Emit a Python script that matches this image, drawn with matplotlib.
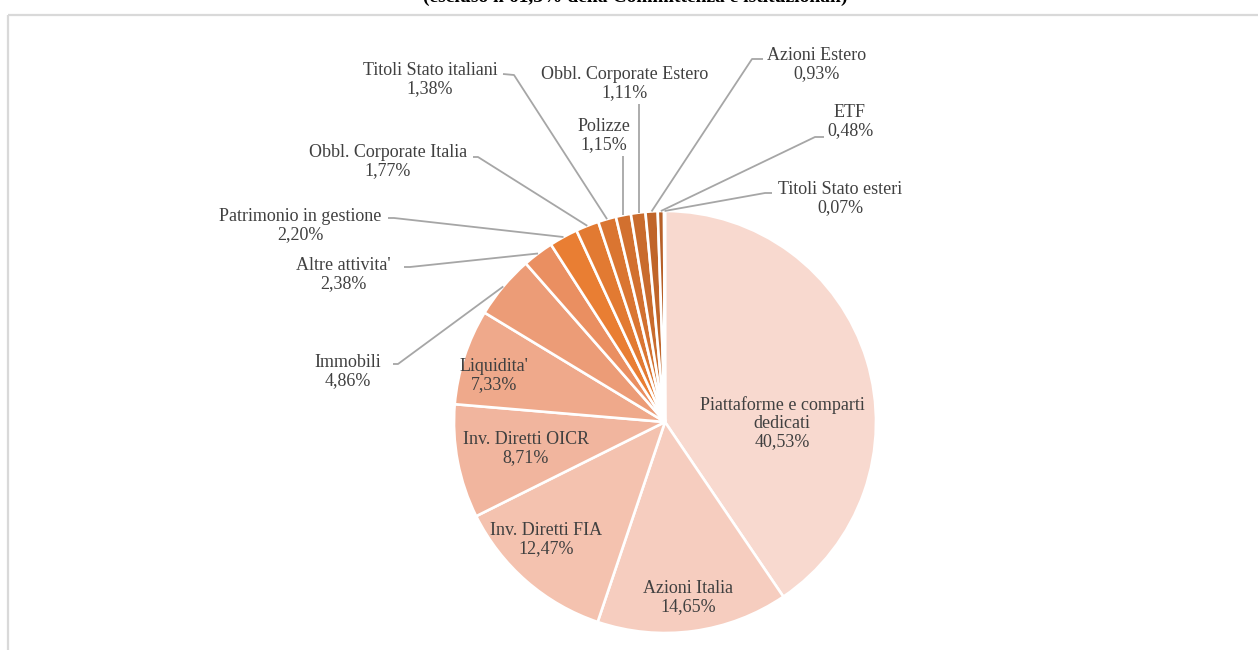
import numpy as np
import matplotlib.pyplot as plt
from matplotlib.patches import Rectangle

# composizione del patrimonio, in senso orario a partire dall'alto
categorie = ["Piattaforme e comparti\ndedicati", "Azioni Italia", "Inv. Diretti FIA",
             "Inv. Diretti OICR", "Liquidita'", "Immobili", "Altre attivita'",
             "Patrimonio in gestione", "Obbl. Corporate Italia", "Titoli Stato italiani",
             "Polizze", "Obbl. Corporate Estero", "Azioni Estero", "ETF", "Titoli Stato esteri"]
quote = [40.53, 14.65, 12.47, 8.71, 7.33, 4.86, 2.38, 2.20, 1.77, 1.38, 1.15, 1.11, 0.93, 0.48, 0.07]
colori = ["#F8D9CF", "#F6CDBF", "#F4C2AF", "#F1B59E", "#EFA98B", "#EC9C77", "#EA8F61",
          "#E97E33", "#E27A32", "#DA7531", "#D2702F", "#C96B2D", "#C0652A", "#B76028", "#AE5A26"]

# etichette dentro lo spicchio: centro del testo (px)
interne = {0: (782, 423), 1: (688, 598), 2: (546, 540), 3: (526, 449), 4: (494, 376)}
# etichette esterne: centro del testo, fine della linea guida, tratto orizzontale finale
esterne = {
    5: ((348, 372), (398, 364), (393, 364)),
    6: ((343, 275), (410, 267), (404, 267)),
    7: ((300, 226), (394, 218), (388, 218)),
    8: ((388, 162), (478, 157), (473, 157)),
    9: ((430, 80), (514, 75), (503, 74)),
    10: ((604, 136), (623, 156), None),
    11: ((625, 84), (639, 104), None),
    12: ((817, 65), (752, 59), (763, 59)),
    13: ((850, 122), (815, 137), (824, 137)),
    14: ((840, 199), (765, 193), (772, 193)),
}

W, H = 1258, 650
plt.rcParams['font.family'] = ['Liberation Serif', 'DejaVu Serif']
fig = plt.figure(figsize=(W / 100, H / 100), dpi=100)
ax = fig.add_axes([0, 0, 1, 1])

# cornice grigia del grafico
ax.add_patch(Rectangle((8, 15), W + 20, H + 20, fill=False, ec="#D9D9D9", lw=1.6))
ax.text(635, 2, "(escluso il 61,3% della Committenza e istituzionali)", ha='center',
        va='baseline', fontsize=14, fontweight='bold', color="#000000")

cx, cy, R = 665, 422, 211
# y invertito: counterclock=True disegna in senso orario sullo schermo
wedges, _ = ax.pie(quote, colors=colori, startangle=-90, counterclock=True,
                   center=(cx, cy), radius=R, frame=True,
                   wedgeprops=dict(edgecolor='white', linewidth=1.9))
ax.set_xlim(0, W)
ax.set_ylim(H, 0)
ax.set_aspect('equal')
ax.axis('off')

testo = "#404040"
fs = 13
for i, w in enumerate(wedges):
    lab = categorie[i] + "\n" + f"{quote[i]:.2f}".replace(".", ",") + "%"
    if i in interne:
        x, y = interne[i]
        ax.text(x, y, lab, ha='center', va='center', fontsize=fs, color=testo,
                linespacing=1.08)
    else:
        (tx, ty), p1, p2 = esterne[i]
        ang = np.deg2rad((w.theta1 + w.theta2) / 2)
        x0 = cx + R * np.cos(ang)
        y0 = cy + R * np.sin(ang)
        if p2 is None:
            xs, ys = [p1[0], p1[0]], [y0, p1[1]]
        else:
            xs, ys = [x0, p1[0], p2[0]], [y0, p1[1], p2[1]]
        ax.plot(xs, ys, color="#A6A6A6", lw=1.3, solid_capstyle='butt')
        ax.text(tx, ty, lab, ha='center', va='center', fontsize=fs, color=testo,
                linespacing=1.08)

fig.savefig("out.png", dpi=100)
